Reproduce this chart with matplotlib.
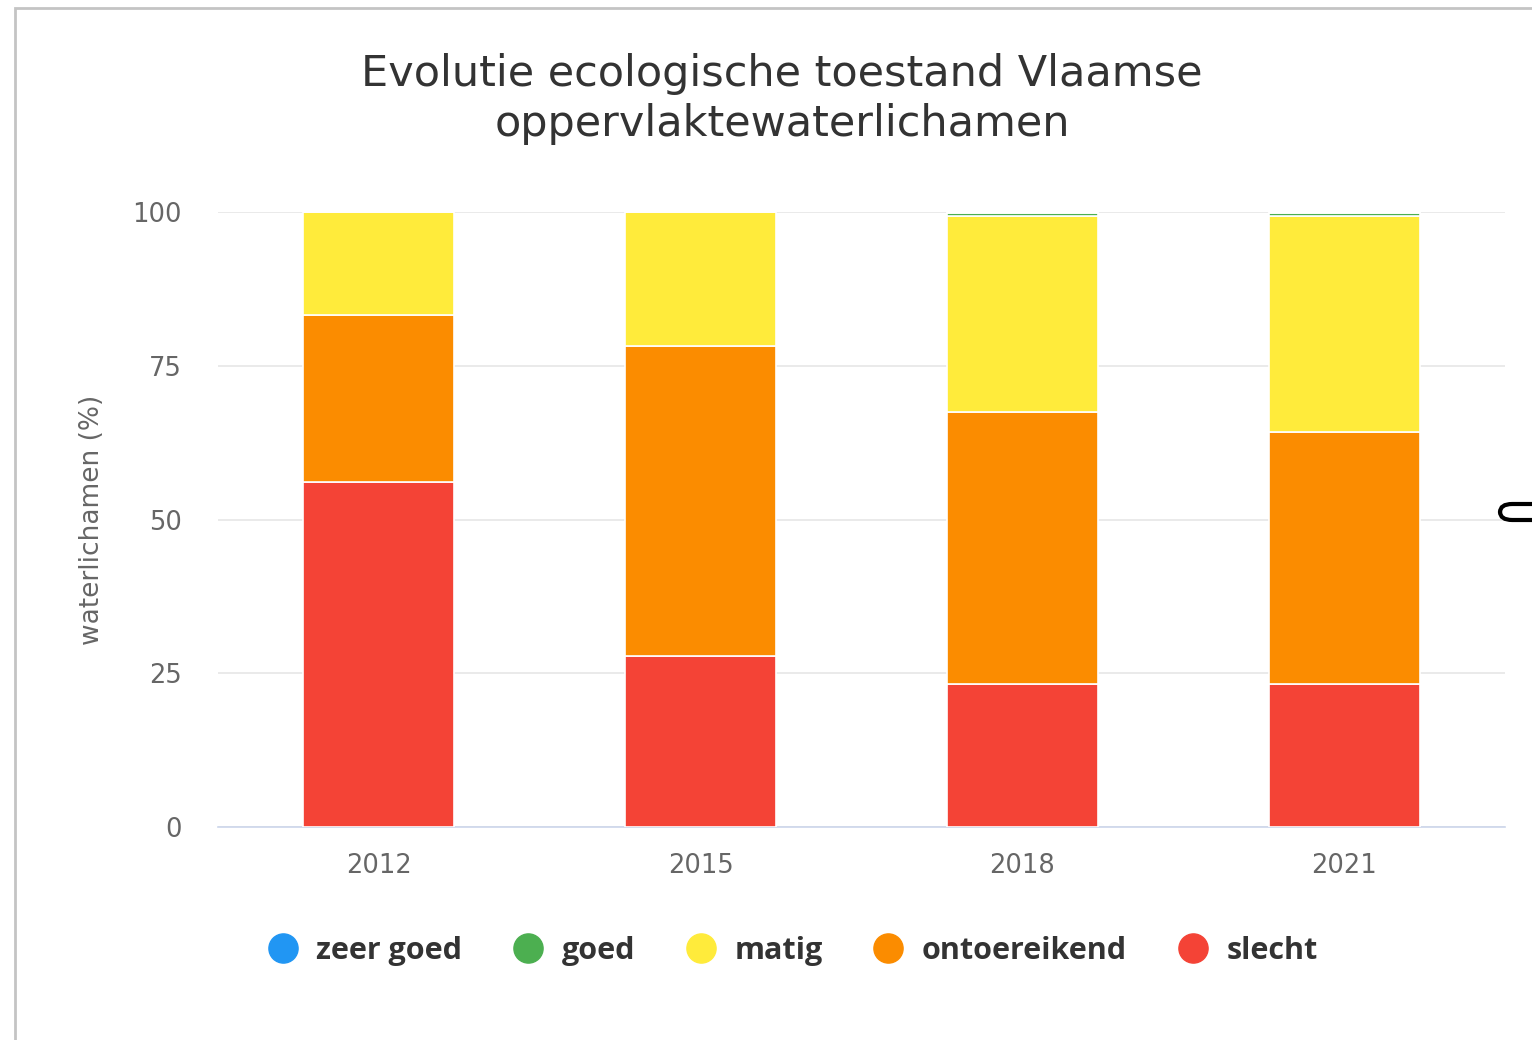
import matplotlib
matplotlib.use("Agg")
import matplotlib.pyplot as plt
from matplotlib.lines import Line2D
from matplotlib.patches import Rectangle, FancyBboxPatch
import numpy as np

years = ["2012", "2015", "2018", "2021"]
series_names = ["zeer goed", "goed", "matig", "ontoereikend", "slecht"]
slecht = [56.1, 27.8, 23.3, 23.3]
ontoereikend = [27.2, 50.4, 44.2, 40.9]
matig = [16.7, 21.8, 31.8, 35.1]
goed = [0.0, 0.0, 0.5, 0.5]
zeer_goed = [0.0, 0.0, 0.2, 0.2]
yticks = [0, 25, 50, 75, 100]

colors = {"zeer goed": "#2196f3", "goed": "#4caf50", "matig": "#ffeb3b",
          "ontoereikend": "#fb8c00", "slecht": "#f44336"}

plt.rcParams['font.family'] = ['DejaVu Sans']

fig = plt.figure(figsize=(15.32, 10.40), dpi=100)
fig.patch.set_facecolor("white")

# outer frame
fig.patches.append(Rectangle((15/1532, -0.05), 1.2, 0.05 + 1 - 8/1040, transform=fig.transFigure,
                             facecolor="none", edgecolor="#c4c4c4", linewidth=2.0, zorder=0))

ax = fig.add_axes([218/1532, 1 - 827/1040, (1505 - 218)/1532, (827 - 212)/1040])
x = np.arange(len(years))
width = 0.47
stack_order = [("slecht", slecht), ("ontoereikend", ontoereikend), ("matig", matig),
               ("goed", goed), ("zeer goed", zeer_goed)]
bottom = np.zeros(len(years))
for name, vals in stack_order:
    v = np.array(vals)
    ax.bar(x, v, width, bottom=bottom, color=colors[name], edgecolor="white",
           linewidth=1.2, zorder=3)
    bottom += v

ax.set_xlim(-0.5, 3.5)
ax.set_ylim(0, 100)
ax.set_yticks(yticks)
ax.set_xticks(x)
ax.set_xticklabels(years)
ax.grid(axis="y", color="#e6e6e6", linewidth=1.2, zorder=0)
for s in ["top", "right", "left"]:
    ax.spines[s].set_visible(False)
ax.spines["bottom"].set_color("#ccd6eb")
ax.spines["bottom"].set_linewidth(1.2)
ax.tick_params(axis="y", length=0, pad=26, labelsize=18.5, labelcolor="#666666")
ax.tick_params(axis="x", length=0, pad=19, labelsize=18.5, labelcolor="#666666")
ax.set_ylabel("waterlichamen (%)", fontsize=19, color="#666666", labelpad=20)

fig.text(782/1532, 1 - 99/1040, "Evolutie ecologische toestand Vlaamse\noppervlaktewaterlichamen",
         ha="center", va="center", fontsize=31, color="#333333", linespacing=1.22)

handles = [Line2D([0], [0], marker="o", linestyle="none", markersize=21,
                  markerfacecolor=colors[n], markeredgecolor=colors[n]) for n in series_names]
leg = fig.legend(handles, series_names, loc="center", bbox_to_anchor=(785/1532, 1 - 951/1040),
                 ncol=5, frameon=False, handletextpad=0.1, columnspacing=1.15,
                 prop={"size": 22, "weight": "bold", "family": ["Open Sans", "DejaVu Sans"]})
for t in leg.get_texts():
    t.set_color("#333333")

# small UI element at right edge
fig.patches.append(FancyBboxPatch((1500/1532, 1 - 520/1040), 60/1532, 16/1040,
                                  boxstyle="round,pad=0,rounding_size=0.008",
                                  transform=fig.transFigure, facecolor="white",
                                  edgecolor="black", linewidth=3, zorder=5))

fig.savefig("out.png", dpi=100)
